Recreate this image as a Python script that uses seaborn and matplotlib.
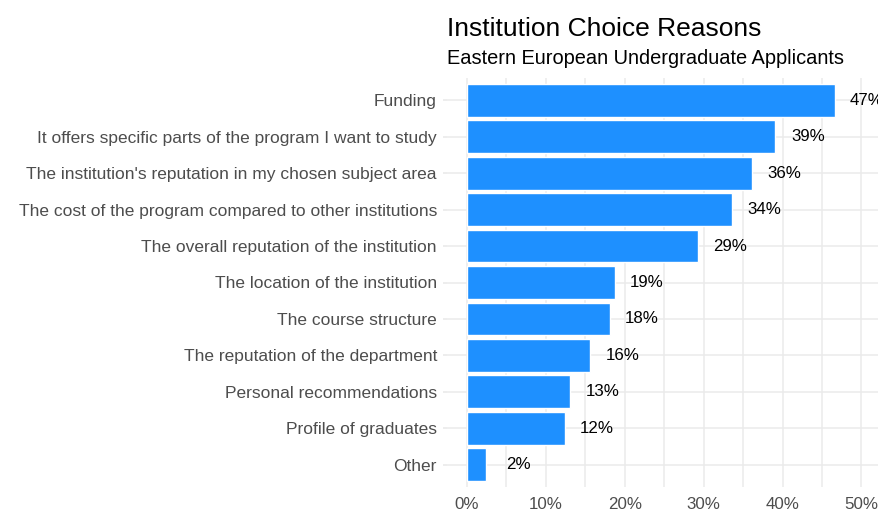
import matplotlib
matplotlib.use("Agg")
import matplotlib.pyplot as plt
import seaborn as sns
import pandas as pd

# data
reasons = [
    "Funding",
    "It offers specific parts of the program I want to study",
    "The institution's reputation in my chosen subject area",
    "The cost of the program compared to other institutions",
    "The overall reputation of the institution",
    "The location of the institution",
    "The course structure",
    "The reputation of the department",
    "Personal recommendations",
    "Profile of graduates",
    "Other",
]
shares = [46.6, 39.1, 36.1, 33.6, 29.3, 18.7, 18.1, 15.6, 13.1, 12.4, 2.4]
x_ticks = [0, 10, 20, 30, 40, 50]

df = pd.DataFrame({"reason": reasons, "share": shares})

sns.set_theme(style="white")
plt.rcParams["font.family"] = ["Liberation Sans", "DejaVu Sans"]

W, H = 879, 509
fig = plt.figure(figsize=(W / 100, H / 100), dpi=100)
left, right, top, bottom = 446.7, 879, 78.4, 486.6
ax = fig.add_axes([left / W, 1 - bottom / H, (right - left) / W, (bottom - top) / H])

sns.barplot(data=df, y="reason", x="share", order=reasons, color="#1E90FF",
            saturation=1, width=0.9, ax=ax, zorder=2)

for i, v in enumerate(shares):
    ax.text(v + 4.1, i, f"{v:.0f}%", ha="center", va="center",
            fontsize=12.2, color="black", clip_on=True, zorder=3)

ax.set_xlim(-2.57, (right - 467) / 7.89)
ax.set_ylim(len(reasons) - 0.4, -0.6)
ax.set_xticks(x_ticks)
ax.set_xticks([5, 15, 25, 35, 45], minor=True)
ax.set_xticklabels([f"{t}%" for t in x_ticks])
ax.grid(True, which="both", axis="x", color="#EBEBEB", linewidth=1.1, zorder=0)
ax.grid(True, which="major", axis="y", color="#EBEBEB", linewidth=1.1, zorder=0)
ax.set_axisbelow(True)
for s in ax.spines.values():
    s.set_visible(False)
ax.tick_params(axis="y", length=3, color="#EBEBEB", labelsize=12.5,
               labelcolor="#4D4D4D", pad=4, left=True)
ax.tick_params(axis="x", length=0, labelsize=12.2, labelcolor="#4D4D4D", pad=7.5)
ax.set_xlabel("")
ax.set_ylabel("")

fig.text(left / W, 1 - 36 / H, "Institution Choice Reasons", fontsize=19,
         color="black", ha="left", va="baseline")
fig.text(left / W, 1 - 63.5 / H, "Eastern European Undergraduate Applicants",
         fontsize=14.4, color="black", ha="left", va="baseline")

fig.savefig("out.png", dpi=100)
